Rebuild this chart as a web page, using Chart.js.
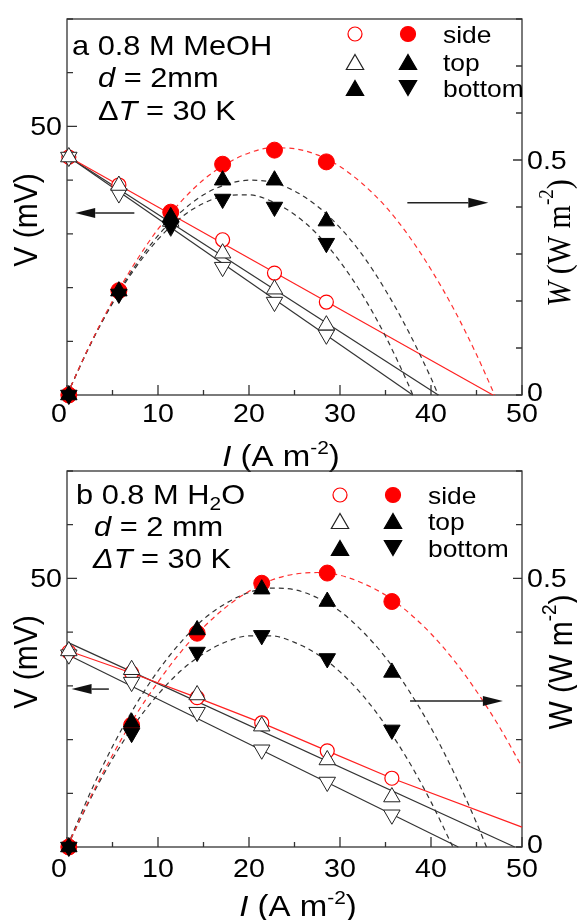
<!DOCTYPE html>
<html><head><meta charset="utf-8">
<script src="https://cdn.jsdelivr.net/npm/chart.js"></script>
<style>
html,body{margin:0;padding:0;background:#fff;}
#wrap{position:relative;width:577px;height:920px;overflow:hidden;background:#fff;}
canvas{position:absolute;left:0;}
#ca{top:0;} #cb{top:460px;}
</style></head>
<body>
<div id="wrap"><canvas id="ca" width="577" height="480"></canvas><canvas id="cb" width="577" height="460"></canvas></div>
<script>
// ---------- axes / ticks ----------
const X_TICKS = [0,5,10,15,20,25,30,35,40,45,50];
const X_LABELED = [0,10,20,30,40,50];
const V_TICKS = [0,10,20,30,40,50,60,70];
const V_LABELED = [50];
const W_TICKS_A = [0,0.1,0.2,0.3,0.4,0.5,0.6,0.7,0.8];
const W_TICKS_B = [0,0.1,0.2,0.3,0.4,0.5,0.6,0.7];
const W_LABELED = [0,0.5];

// ---------- panel a : 0.8 M MeOH ----------
const I_A = [0.2, 5.7, 11.4, 17.1, 22.8, 28.5];
const V_SIDE_A = [44.3, 39.1, 33.8, 28.9, 22.7, 17.3];
const V_TOP_A = [44.3, 39.0, 32.3, 26.4, 19.7, 13.0];
const V_BOTTOM_A = [44.3, 37.5, 31.3, 23.8, 17.3, 11.2];
const W_SIDE_A = [0, 0.222, 0.389, 0.491, 0.521, 0.496];
const W_TOP_A = [0, 0.221, 0.379, 0.457, 0.457, 0.370];
const W_BOTTOM_A = [0, 0.215, 0.360, 0.417, 0.400, 0.323];
const LINE_I_SIDE_A = [0.2, 46.8];   const LINE_V_SIDE_A = [44.3, 0];
const LINE_I_TOP_A = [0.2, 40.8];    const LINE_V_TOP_A = [44.3, 0];
const LINE_I_BOTTOM_A = [0.2, 38.0]; const LINE_V_BOTTOM_A = [44.3, 0];
const FIT_I_SIDE_A = [0,2.5,5,7.5,10,12.5,15,17.5,20,22.5,25,27.5,30,32.5,35,37.5,40,42.5,45,47];
const FIT_W_SIDE_A = [0,0.106,0.200,0.282,0.353,0.411,0.458,0.492,0.515,0.526,0.524,0.511,0.486,0.449,0.401,0.340,0.267,0.183,0.086,0];
const FIT_I_TOP_A = [0,2.5,5,7.5,10,12.5,15,17.5,20,22.5,25,27.5,30,32.5,35,37.5,40,40.8];
const FIT_W_TOP_A = [0,0.105,0.197,0.275,0.339,0.389,0.426,0.448,0.457,0.453,0.434,0.402,0.356,0.297,0.223,0.136,0.036,0];
const FIT_I_BOTTOM_A = [0,2.5,5,7.5,10,12.5,15,17.5,20,22.5,25,27.5,30,32.5,35,37.5,38];
const FIT_W_BOTTOM_A = [0,0.105,0.195,0.270,0.331,0.377,0.408,0.424,0.426,0.412,0.384,0.342,0.284,0.212,0.125,0.023,0];

// ---------- panel b : 0.8 M H2O ----------
const I_B = [0.2, 7.1, 14.3, 21.4, 28.6, 35.7];
const V_SIDE_B = [36.3, 32.4, 27.8, 23.1, 17.9, 12.8];
const V_TOP_B = [36.5, 33.0, 28.3, 22.5, 16.2, 9.3];
const V_BOTTOM_B = [35.8, 30.7, 25.1, 18.1, 12.1, 6.0];
const W_SIDE_B = [0, 0.227, 0.398, 0.491, 0.510, 0.457];
const W_TOP_B = [0, 0.232, 0.404, 0.480, 0.457, 0.325];
const W_BOTTOM_B = [0, 0.212, 0.363, 0.394, 0.351, 0.218];
const LINE_I_SIDE_B = [0.2, 7.1, 14.3, 21.4, 28.6, 35.7, 50]; const LINE_V_SIDE_B = [36.5, 32.4, 27.8, 23.1, 17.9, 12.8, 3.7];
const LINE_I_TOP_B = [0.2, 49.2];    const LINE_V_TOP_B = [38.0, 0];
const LINE_I_BOTTOM_B = [0.2, 43.0]; const LINE_V_BOTTOM_B = [35.7, 0];
const FIT_I_SIDE_B = [0,2.5,5,7.5,10,12.5,15,17.5,20,22.5,25,27.5,30,32.5,35,37.5,40,42.5,45,47.5,50];
const FIT_W_SIDE_B = [0,0.090,0.171,0.244,0.307,0.363,0.409,0.447,0.476,0.497,0.508,0.511,0.506,0.491,0.469,0.437,0.397,0.348,0.290,0.224,0.149];
const FIT_I_TOP_B = [0,2.5,5,7.5,10,12.5,15,17.5,20,22.5,25,27.5,30,32.5,35,37.5,40,42.5,45,46.1];
const FIT_W_TOP_B = [0,0.099,0.187,0.263,0.328,0.381,0.424,0.454,0.474,0.482,0.479,0.464,0.439,0.401,0.353,0.293,0.222,0.139,0.045,0];
const FIT_I_BOTTOM_B = [0,2.5,5,7.5,10,12.5,15,17.5,20,22.5,25,27.5,30,32.5,35,37.5,40,42.4];
const FIT_W_BOTTOM_B = [0,0.087,0.164,0.230,0.284,0.328,0.360,0.382,0.393,0.393,0.381,0.359,0.326,0.282,0.227,0.161,0.084,0];

// arrows (data coordinates): [x0, x1, y, axis]
const ARROWS_A = [[7.4, 0.9, 33.9, 'yL'], [37.4, 46.3, 0.409, 'yR']];
const ARROWS_B = [[4.6, 0.5, 29.4, 'yL'], [37.7, 47.9, 0.272, 'yR']];

// ---------- styles ----------
const RED = '#ff0000';
const SANS = '"Liberation Sans", Arial, sans-serif';
const SERIF = '"Liberation Serif", "Times New Roman", serif';
function pts(xs, ys){ return xs.map((x,i)=>({x:x, y:ys[i]})); }
const OPEN_CIRCLE = {pointStyle:'circle', pointRadius:7, pointBorderColor:RED, pointBackgroundColor:'#fff', pointBorderWidth:1.2};
const OPEN_UP = {pointStyle:'triangle', pointRadius:9.5, pointBorderColor:'#222', pointBackgroundColor:'#fff', pointBorderWidth:1};
const OPEN_DOWN = Object.assign({}, OPEN_UP, {pointRotation:180});
const FILL_CIRCLE = {pointStyle:'circle', pointRadius:8, pointBorderColor:RED, pointBackgroundColor:RED, pointBorderWidth:1};
const FILL_UP = {pointStyle:'triangle', pointRadius:9.5, pointBorderColor:'#000', pointBackgroundColor:'#000', pointBorderWidth:1};
const FILL_DOWN = Object.assign({}, FILL_UP, {pointRotation:180});

function markerDS(label, xs, ys, axis, style, order){
  return Object.assign({label:label, data:pts(xs,ys), yAxisID:axis, showLine:false, clip:false, order:order, pointHoverRadius:0}, style);
}
function lineDS(label, xs, ys, axis, color, dash, order, smooth){
  return {label:label, data:pts(xs,ys), yAxisID:axis, borderColor:color, borderWidth:1.2, borderDash:dash, pointRadius:0, pointHoverRadius:0,
    fill:false, clip:false, order:order, tension:0, cubicInterpolationMode: smooth ? 'monotone' : 'default'};
}

// ---------- text helper ----------
function rich(ctx, parts, x, y, opt){
  opt = opt || {};
  ctx.save();
  ctx.translate(x, y);
  if (opt.rot) ctx.rotate(opt.rot);
  ctx.scale(opt.sx || 1.1, opt.sy || 1);
  ctx.textBaseline = opt.baseline || 'alphabetic';
  ctx.textAlign = 'left';
  let w = 0;
  parts.forEach(p => { ctx.font = p.f; p.w = ctx.measureText(p.t).width; w += p.w; });
  let cx = opt.align === 'center' ? -w/2 : (opt.align === 'right' ? -w : 0);
  parts.forEach(p => { ctx.font = p.f; ctx.fillStyle = p.c || '#000'; ctx.fillText(p.t, cx, p.dy || 0); cx += p.w; });
  ctx.restore();
}
function marker(ctx, kind, x, y, r){
  ctx.save(); ctx.lineWidth = 1.2;
  ctx.beginPath();
  if (kind === 'oc' || kind === 'fc'){
    ctx.arc(x, y, r, 0, 2*Math.PI);
    ctx.fillStyle = kind === 'fc' ? RED : '#fff'; ctx.fill();
    ctx.strokeStyle = RED; ctx.stroke();
  } else {
    const up = kind[1] === 'u', filled = kind[0] === 'f';
    const h = r*1.5, hw = r*Math.sqrt(3)/2;
    if (up){ ctx.moveTo(x, y-h/2); ctx.lineTo(x+hw, y+h/2); ctx.lineTo(x-hw, y+h/2); }
    else { ctx.moveTo(x, y+h/2); ctx.lineTo(x+hw, y-h/2); ctx.lineTo(x-hw, y-h/2); }
    ctx.closePath();
    ctx.fillStyle = filled ? '#000' : '#fff'; ctx.fill();
    ctx.strokeStyle = filled ? '#000' : '#222'; ctx.stroke();
  }
  ctx.restore();
}

const deco = {
  id: 'deco',
  beforeDatasetsDraw(chart, args, o){
    const ctx = chart.ctx, a = chart.chartArea;
    const x = chart.scales.x, yl = chart.scales.yL, yr = chart.scales.yR;
    ctx.save();
    ctx.strokeStyle = '#333'; ctx.lineWidth = 1.3;
    ctx.strokeRect(a.left, a.top, a.right - a.left, a.bottom - a.top);
    ctx.beginPath();
    X_TICKS.forEach(t => { const px = x.getPixelForValue(t); const len = X_LABELED.includes(t) ? 10 : 5; ctx.moveTo(px, a.bottom); ctx.lineTo(px, a.bottom - len); });
    V_TICKS.forEach(t => { const py = yl.getPixelForValue(t); const len = V_LABELED.includes(t) ? 10 : 6; ctx.moveTo(a.left, py); ctx.lineTo(a.left + len, py); });
    o.wTicks.forEach(t => { const py = yr.getPixelForValue(t); const len = t === 0.5 ? 9 : 6; ctx.moveTo(a.right, py); ctx.lineTo(a.right - len, py); });
    ctx.stroke();
    ctx.restore();
  },
  afterDatasetsDraw(chart, args, o){
    const ctx = chart.ctx, a = chart.chartArea;
    const x = chart.scales.x, yl = chart.scales.yL, yr = chart.scales.yR;
    const TF = '26px ' + SANS;
    // tick labels
    X_LABELED.forEach(t => rich(ctx, [{t:String(t), f:TF}], x.getPixelForValue(t) + (t === 0 ? -8 : 0), a.bottom + o.xLabDy, {align:'center'}));
    V_LABELED.forEach(t => rich(ctx, [{t:String(t), f:TF}], a.left - 5, yl.getPixelForValue(t) + 9, {align:'right'}));
    W_LABELED.forEach(t => rich(ctx, [{t:String(t), f:TF}], a.right + 5, yr.getPixelForValue(t) + (t === 0 ? 6 : 9), {align:'left'}));
    // axis titles
    const AF = '30px ' + SANS, AFI = 'italic 30px ' + SANS, SUP = '19px ' + SANS;
    rich(ctx, [{t:'I', f:AFI}, {t:' (A m', f:AF}, {t:'-2', f:SUP, dy:-12}, {t:')', f:AF}], o.xTitle[0], o.xTitle[1], {align:'center'});
    rich(ctx, [{t:'V (mV)', f:AF}], o.vTitle[0], o.vTitle[1], {align:'center', rot:-Math.PI/2, baseline:'middle', sx:1, sy:1.1});
    if (o.serifW){
      const SF = '30px ' + SERIF, SFI = 'italic 30px ' + SERIF, SS = '19px ' + SERIF;
      rich(ctx, [{t:'W', f:SFI}, {t:' (W m', f:SF}, {t:'-2', f:SS, dy:-12}, {t:')', f:SF}], o.wTitle[0], o.wTitle[1], {align:'center', rot:-Math.PI/2, baseline:'middle', sx:1, sy:1.1});
    } else {
      rich(ctx, [{t:'W (W m', f:AF}, {t:'-2', f:SUP, dy:-12}, {t:')', f:AF}], o.wTitle[0], o.wTitle[1], {align:'center', rot:-Math.PI/2, baseline:'middle', sx:1, sy:1.1});
    }
    // annotation
    o.notes.forEach(n => rich(ctx, n.parts, n.x, n.y, {}));
    // legend
    const L = o.legend;
    const rows = [['oc','fc','side'], ['ou','fu','top'], ['fu','fd','bottom']];
    rows.forEach((r, i) => {
      const y = L.y[i];
      marker(ctx, r[0], L.c1, y, r[0].endsWith('c') ? 7 : 10);
      marker(ctx, r[1], L.c2, y, r[1].endsWith('c') ? 7.5 : 10);
      rich(ctx, [{t:r[2], f:'24px ' + SANS}], L.tx, y + 9, {});
    });
    // arrows
    ctx.save();
    ctx.strokeStyle = '#222'; ctx.fillStyle = '#111'; ctx.lineWidth = 1.5;
    o.arrows.forEach(ar => {
      const sc = chart.scales[ar[3]];
      const x0 = x.getPixelForValue(ar[0]), x1 = x.getPixelForValue(ar[1]), py = sc.getPixelForValue(ar[2]);
      const dir = Math.sign(x1 - x0), hl = 20, hw = 5;
      ctx.beginPath(); ctx.moveTo(x0, py); ctx.lineTo(x1 - dir*hl, py); ctx.stroke();
      ctx.beginPath(); ctx.moveTo(x1, py); ctx.lineTo(x1 - dir*hl, py - hw); ctx.lineTo(x1 - dir*hl, py + hw); ctx.closePath(); ctx.fill();
    });
    ctx.restore();
  }
};

function makePanel(id, d, extra){
  const datasets = [
    lineDS('V side line', d.lsI, d.lsV, 'yL', '#ff2020', [], 20, false),
    lineDS('V top line', d.ltI, d.ltV, 'yL', '#333', [], 21, false),
    lineDS('V bottom line', d.lbI, d.lbV, 'yL', '#333', [], 22, false),
    lineDS('W side fit', d.fsI, d.fsW, 'yR', '#ff3030', [5,4], 15, true),
    lineDS('W top fit', d.ftI, d.ftW, 'yR', '#333', [5,4], 16, true),
    lineDS('W bottom fit', d.fbI, d.fbW, 'yR', '#333', [5,4], 17, true),
    markerDS('V side', d.I, d.vs, 'yL', OPEN_CIRCLE, 10),
    markerDS('V top', d.I, d.vt, 'yL', OPEN_UP, 8),
    markerDS('V bottom', d.I, d.vb, 'yL', OPEN_DOWN, 9),
    markerDS('W side', d.I, d.ws, 'yR', FILL_CIRCLE, 5),
    markerDS('W bottom', d.I, d.wb, 'yR', FILL_DOWN, 4),
    markerDS('W top', d.I, d.wt, 'yR', FILL_UP, 3)
  ];
  return new Chart(document.getElementById(id), {
    type: 'line',
    data: { datasets: datasets },
    options: {
      responsive: false, animation: false, events: [], devicePixelRatio: 1,
      layout: { padding: extra.padding },
      scales: {
        x: { type:'linear', min:0, max:50, display:false },
        yL: { type:'linear', position:'left', min:0, max:70, display:false },
        yR: { type:'linear', position:'right', min:0, max:extra.wMax, display:false }
      },
      plugins: { legend:{display:false}, tooltip:{enabled:false}, deco: extra.deco }
    },
    plugins: [deco]
  });
}

const NF = '28px ' + SANS, NFI = 'italic 28px ' + SANS;
makePanel('ca', {
  I:I_A, vs:V_SIDE_A, vt:V_TOP_A, vb:V_BOTTOM_A, ws:W_SIDE_A, wt:W_TOP_A, wb:W_BOTTOM_A,
  lsI:LINE_I_SIDE_A, lsV:LINE_V_SIDE_A, ltI:LINE_I_TOP_A, ltV:LINE_V_TOP_A, lbI:LINE_I_BOTTOM_A, lbV:LINE_V_BOTTOM_A,
  fsI:FIT_I_SIDE_A, fsW:FIT_W_SIDE_A, ftI:FIT_I_TOP_A, ftW:FIT_W_TOP_A, fbI:FIT_I_BOTTOM_A, fbW:FIT_W_BOTTOM_A
}, {
  padding: {left:67, right:55, top:19, bottom:85}, wMax:0.8,
  deco: {
    wTicks: W_TICKS_A, xLabDy: 27, xTitle:[281, 466], vTitle:[28, 220], wTitle:[561, 243], serifW:true,
    notes: [
      {x:72, y:55, parts:[{t:'a 0.8 M MeOH', f:NF}]},
      {x:98, y:87, parts:[{t:'d', f:NFI}, {t:' = 2mm', f:NF}]},
      {x:98, y:120, parts:[{t:'\u0394', f:NF}, {t:'T', f:NFI}, {t:' = 30 K', f:NF}]}
    ],
    legend: {c1:355, c2:408, tx:443, y:[34, 62, 88]},
    arrows: ARROWS_A
  }
});
makePanel('cb', {
  I:I_B, vs:V_SIDE_B, vt:V_TOP_B, vb:V_BOTTOM_B, ws:W_SIDE_B, wt:W_TOP_B, wb:W_BOTTOM_B,
  lsI:LINE_I_SIDE_B, lsV:LINE_V_SIDE_B, ltI:LINE_I_TOP_B, ltV:LINE_V_TOP_B, lbI:LINE_I_BOTTOM_B, lbV:LINE_V_BOTTOM_B,
  fsI:FIT_I_SIDE_B, fsW:FIT_W_SIDE_B, ftI:FIT_I_TOP_B, ftW:FIT_W_TOP_B, fbI:FIT_I_BOTTOM_B, fbW:FIT_W_BOTTOM_B
}, {
  padding: {left:67, right:55, top:11, bottom:73}, wMax:0.7,
  deco: {
    wTicks: W_TICKS_B, xLabDy: 30, xTitle:[298, 456], vTitle:[28, 202], wTitle:[563, 202], serifW:false,
    notes: [
      {x:76, y:44, parts:[{t:'b 0.8 M H', f:NF}, {t:'2', f:'19px ' + SANS, dy:6}, {t:'O', f:NF}]},
      {x:94, y:76, parts:[{t:'d', f:NFI}, {t:' = 2 mm', f:NF}]},
      {x:93, y:108, parts:[{t:'\u0394T', f:NFI}, {t:' = 30 K', f:NF}]}
    ],
    legend: {c1:340, c2:393, tx:428, y:[35, 61, 88]},
    arrows: ARROWS_B
  }
});
</script>
</body></html>
